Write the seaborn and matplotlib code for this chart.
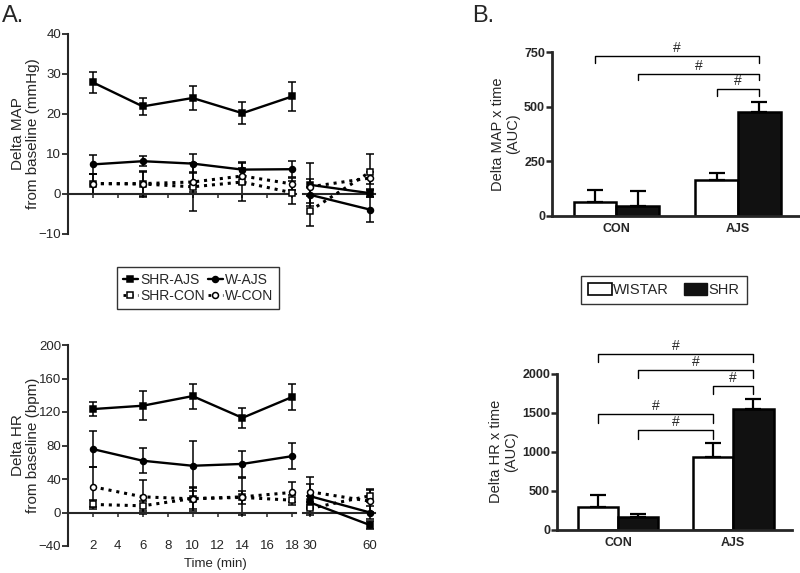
import numpy as np
import pandas as pd
import matplotlib
matplotlib.use("Agg")
import matplotlib.pyplot as plt
import seaborn as sns
from matplotlib.lines import Line2D
from matplotlib.patches import Patch

sns.set_theme(style="ticks")
plt.rcParams['font.family'] = ['Liberation Sans', 'DejaVu Sans']

# ---------------- Panel A data ----------------
times = [2, 6, 10, 14, 18, 30, 60]
series_names = ["SHR-AJS", "W-AJS", "SHR-CON", "W-CON"]

map_shr_ajs = [27.9, 21.9, 24.0, 20.2, 24.4, 2.3, 0.2]
map_shr_ajs_err = [2.6, 2.1, 2.9, 2.7, 3.6, 5.4, 1.0]
map_w_ajs = [7.4, 8.2, 7.6, 6.1, 6.2, -0.2, -3.9]
map_w_ajs_err = [2.3, 1.3, 2.4, 1.9, 2.0, 2.0, 3.2]
map_shr_con = [2.6, 2.5, 1.8, 3.0, 0.3, -4.2, 5.5]
map_shr_con_err = [2.5, 3.3, 6.0, 4.8, 2.9, 3.7, 4.5]
map_w_con = [2.6, 2.6, 3.0, 4.5, 2.5, 1.8, 4.0]
map_w_con_err = [2.5, 3.0, 2.5, 2.0, 1.5, 2.0, 1.5]

hr_shr_ajs = [123.5, 127.5, 139.0, 113.0, 138.0, 12.0, -15.0]
hr_shr_ajs_err = [8.8, 17.5, 15.0, 12.0, 16.0, 8.0, 5.0]
hr_w_ajs = [75.7, 61.8, 55.8, 58.0, 67.3, 19.5, 0.0]
hr_w_ajs_err = [21.5, 14.7, 30.0, 15.2, 15.6, 14.0, 8.0]
hr_shr_con = [9.6, 8.0, 16.7, 18.0, 14.7, 4.8, 20.0]
hr_shr_con_err = [5.0, 6.0, 12.0, 8.0, 6.0, 8.0, 8.0]
hr_w_con = [30.7, 18.7, 16.3, 18.7, 24.0, 24.7, 13.5]
hr_w_con_err = [24.0, 20.0, 14.0, 22.0, 12.0, 18.0, 13.0]

# ---------------- Panel B data ----------------
bar_groups = ["CON", "AJS"]
strains = ["WISTAR", "SHR"]
map_auc_wistar = [62.6, 166.5]
map_auc_wistar_err = [57, 29]
map_auc_shr = [47, 476.5]
map_auc_shr_err = [69, 44]
hr_auc_wistar = [290, 934]
hr_auc_wistar_err = [158, 175]
hr_auc_shr = [170.6, 1548]
hr_auc_shr_err = [34, 132]

styles = {
    "SHR-AJS": dict(marker="s", mfc="black", ls="-"),
    "W-AJS": dict(marker="o", mfc="black", ls="-"),
    "SHR-CON": dict(marker="s", mfc="white", ls=(0, (1, 1.6))),
    "W-CON": dict(marker="o", mfc="white", ls=(0, (1, 1.6))),
}

def long_df(vals, errs):
    rows = []
    for name, v, e in zip(series_names, vals, errs):
        for t, y, ee in zip(times, v, e):
            rows.append(dict(time=t, value=y, err=ee, group=name))
    return pd.DataFrame(rows)

df_map = long_df([map_shr_ajs, map_w_ajs, map_shr_con, map_w_con],
                 [map_shr_ajs_err, map_w_ajs_err, map_shr_con_err, map_w_con_err])
df_hr = long_df([hr_shr_ajs, hr_w_ajs, hr_shr_con, hr_w_con],
                [hr_shr_ajs_err, hr_w_ajs_err, hr_shr_con_err, hr_w_con_err])

fig = plt.figure(figsize=(8, 5.73), dpi=100)
W, H = 800, 573

def axpos(x0, y0, x1, y1):
    return [x0 / W, 1 - y1 / H, (x1 - x0) / W, (y1 - y0) / H]

MS = 4.3

def draw_lines(ax, df, tmin, tmax):
    for name in series_names:
        sub = df[(df.group == name) & (df.time >= tmin) & (df.time <= tmax)]
        st = styles[name]
        ax.errorbar(sub.time, sub.value, yerr=sub.err, fmt="none", ecolor="black",
                    elinewidth=1.1, capsize=2.7, capthick=1.1, zorder=2)
        sns.lineplot(data=sub, x="time", y="value", ax=ax, color="black",
                     linestyle=st["ls"], linewidth=1.7 if st["ls"] == "-" else 2.2,
                     marker=st["marker"], markersize=MS, markerfacecolor=st["mfc"],
                     markeredgecolor="black", markeredgewidth=1.1, zorder=3)
    ax.set_xlabel("")
    ax.set_ylabel("")

def style_left(ax, ylim, yticks, show_xlabels):
    ax.set_xlim(0, 18.3)
    ax.set_ylim(*ylim)
    ax.set_yticks(yticks)
    ax.set_xticks([2, 4, 6, 8, 10, 12, 14, 16, 18])
    ax.spines["top"].set_visible(False)
    ax.spines["right"].set_visible(False)
    ax.spines["bottom"].set_position(("data", 0))
    for s in ["left", "bottom"]:
        ax.spines[s].set_linewidth(1.5)
    ax.tick_params(axis="y", length=4, width=1.3, labelsize=9.5, pad=1)
    ax.tick_params(axis="x", length=3, width=1.1, labelsize=9.5,
                   labelbottom=show_xlabels, pad=17)

def style_right(ax, ylim, show_xlabels):
    ax.set_xlim(26.5, 62.5)
    ax.set_ylim(*ylim)
    ax.set_xticks([30, 60])
    ax.set_yticks([])
    for s in ["top", "right", "left"]:
        ax.spines[s].set_visible(False)
    ax.spines["bottom"].set_position(("data", 0))
    ax.spines["bottom"].set_linewidth(1.5)
    ax.tick_params(axis="x", length=3, width=1.1, labelsize=9.5,
                   labelbottom=show_xlabels, pad=17)
    ax.patch.set_alpha(0)

# Top (MAP)
axA1 = fig.add_axes(axpos(68, 34, 296, 234))
draw_lines(axA1, df_map, 0, 20)
style_left(axA1, (-10, 40), [-10, 0, 10, 20, 30, 40], False)
axA1.set_ylabel("Delta MAP\nfrom baseline (mmHg)", fontsize=11, labelpad=-1, linespacing=1.1)

axA2 = fig.add_axes(axpos(303, 34, 375, 234))
draw_lines(axA2, df_map, 25, 65)
style_right(axA2, (-10, 40), False)

# Bottom (HR)
axA3 = fig.add_axes(axpos(68, 345, 296, 546))
draw_lines(axA3, df_hr, 0, 20)
style_left(axA3, (-40, 200), [-40, 0, 40, 80, 120, 160, 200], True)
axA3.set_ylabel("Delta HR\nfrom baseline (bpm)", fontsize=11, labelpad=-1, linespacing=1.1)

axA4 = fig.add_axes(axpos(303, 345, 375, 546))
draw_lines(axA4, df_hr, 25, 65)
style_right(axA4, (-40, 200), True)

fig.text(215 / W, 1 - 564 / H, "Time (min)", ha="center", va="center", fontsize=9.5)

# Legend A
handles_A = []
for name in ["SHR-AJS", "SHR-CON", "W-AJS", "W-CON"]:
    st = styles[name]
    handles_A.append(Line2D([], [], color="black", linestyle=st["ls"],
                            linewidth=1.7 if st["ls"] == "-" else 2.0,
                            marker=st["marker"], markersize=MS, markerfacecolor=st["mfc"],
                            markeredgecolor="black", markeredgewidth=1.1, label=name))
legA = fig.legend(handles=handles_A, ncol=2, loc="center", bbox_to_anchor=(198 / W, 1 - 288 / H),
                  frameon=True, fancybox=False, edgecolor="black", fontsize=10,
                  handlelength=1.1, handletextpad=0.15, columnspacing=0.2,
                  labelspacing=0.15, borderpad=0.4)
legA.get_frame().set_linewidth(1.0)

# ---------------- Panel B ----------------
def bar_panel(ax, wistar, wistar_err, shr, shr_err, ylim, yticks, brackets, ylabel):
    df = pd.DataFrame({
        "group": bar_groups * 2,
        "strain": [strains[0]] * 2 + [strains[1]] * 2,
        "value": list(wistar) + list(shr),
    })
    sns.barplot(data=df, x="group", y="value", hue="strain", order=bar_groups,
                hue_order=strains, palette={"WISTAR": "white", "SHR": "#111111"},
                edgecolor="black", linewidth=1.8, width=0.7, errorbar=None,
                legend=False, ax=ax, saturation=1)
    errs = [wistar_err, shr_err]
    centers = {}
    bar_conts = list(ax.containers)
    for si, cont in enumerate(bar_conts):
        for gi, bar in enumerate(cont.patches):
            x = bar.get_x() + bar.get_width() / 2
            y = bar.get_height()
            centers[(bar_groups[gi], strains[si])] = x
            ax.errorbar([x], [y], yerr=[[0], [errs[si][gi]]], fmt="none", ecolor="black",
                        elinewidth=1.6, capsize=6, capthick=1.6, zorder=1)
    ax.set_xlim(-0.53, 1.51)
    ax.set_ylim(*ylim)
    ax.set_yticks(yticks)
    ax.set_xlabel("")
    ax.set_ylabel(ylabel, fontsize=10.5, labelpad=2.5, linespacing=1.1)
    for s in ["top", "right"]:
        ax.spines[s].set_visible(False)
    for s in ["left", "bottom"]:
        ax.spines[s].set_linewidth(2)
    ax.tick_params(axis="x", length=0, labelsize=9, pad=5)
    ax.tick_params(axis="y", length=4, width=1.8, labelsize=9, pad=1)
    for lab in ax.get_xticklabels() + ax.get_yticklabels():
        lab.set_fontweight("bold")
    for (a, b, y, h) in brackets:
        x1 = centers[a]
        x2 = centers[b]
        ax.plot([x1, x1, x2, x2], [y - h, y, y, y - h], color="black", lw=1.0,
                clip_on=False)
        ax.text((x1 + x2) / 2, y + h * 0.15, "#", ha="center", va="bottom",
                fontsize=10, clip_on=False)

axB1 = fig.add_axes(axpos(552, 52.3, 800, 216))
bar_panel(axB1, map_auc_wistar, map_auc_wistar_err, map_auc_shr, map_auc_shr_err,
          (0, 750), [0, 250, 500, 750],
          [(("CON", "WISTAR"), ("AJS", "SHR"), 733, 30),
           (("CON", "SHR"), ("AJS", "SHR"), 651, 30),
           (("AJS", "WISTAR"), ("AJS", "SHR"), 581, 30)],
          "Delta MAP x time\n(AUC)")

axB2 = fig.add_axes(axpos(557, 373.7, 792, 530))
bar_panel(axB2, hr_auc_wistar, hr_auc_wistar_err, hr_auc_shr, hr_auc_shr_err,
          (0, 2000), [0, 500, 1000, 1500, 2000],
          [(("CON", "WISTAR"), ("AJS", "SHR"), 2248, 100),
           (("CON", "SHR"), ("AJS", "SHR"), 2047, 100),
           (("AJS", "WISTAR"), ("AJS", "SHR"), 1843, 100),
           (("CON", "WISTAR"), ("AJS", "WISTAR"), 1484, 120),
           (("CON", "SHR"), ("AJS", "WISTAR"), 1280, 120)],
          "Delta HR x time\n(AUC)")

handles_B = [Patch(facecolor="white", edgecolor="black", linewidth=1.2, label="WISTAR"),
             Patch(facecolor="#111111", edgecolor="#111111", label="SHR")]
legB = fig.legend(handles=handles_B, ncol=2, loc="center", bbox_to_anchor=(664 / W, 1 - 290 / H),
                  frameon=True, fancybox=False, edgecolor="black", fontsize=10.5,
                  handlelength=1.6, handleheight=0.8, handletextpad=0.1,
                  columnspacing=1.0, borderpad=0.5)
legB.get_frame().set_linewidth(1.0)

fig.text(0.002, 1 - 16 / H, "A.", fontsize=17, va="center", ha="left")
fig.text(472 / W, 1 - 16 / H, "B.", fontsize=17, va="center", ha="left")

fig.savefig("out.png", dpi=100)
